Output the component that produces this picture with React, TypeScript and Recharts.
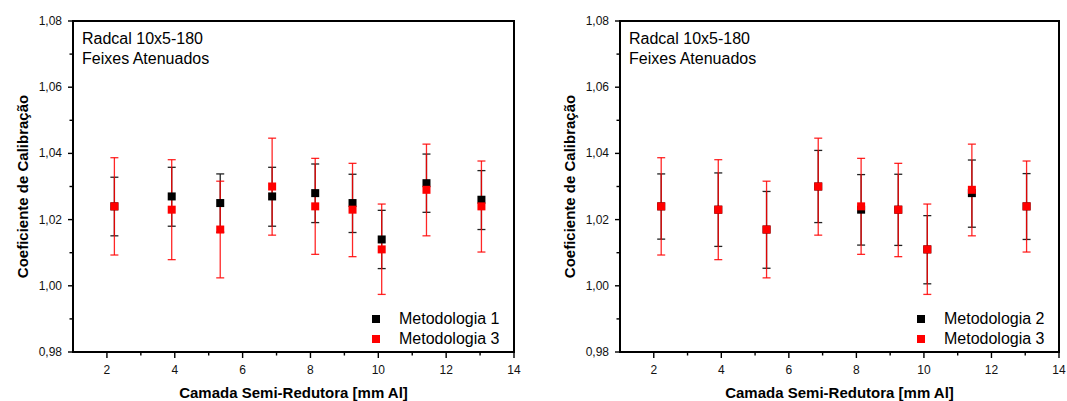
import { ScatterChart, Scatter, XAxis, YAxis, ErrorBar } from "recharts";

// HVL values (mm Al)
const hvl = [2.22, 3.91, 5.34, 6.87, 8.14, 9.24, 10.1, 11.42, 13.04];

const met1Values = [1.024, 1.027, 1.025, 1.027, 1.028, 1.025, 1.014, 1.031, 1.026];
const met1Lower = [1.0151, 1.018, 1.0162, 1.018, 1.0191, 1.0161, 1.0052, 1.0222, 1.017];
const met1Upper = [1.0328, 1.0358, 1.0338, 1.0358, 1.0368, 1.0337, 1.0228, 1.0398, 1.0348];

const met2Values = [1.024, 1.023, 1.017, 1.03, 1.023, 1.023, 1.011, 1.028, 1.024];
const met2Lower = [1.0141, 1.0119, 1.0053, 1.0191, 1.0123, 1.0122, 1.0006, 1.0177, 1.014];
const met2Upper = [1.0338, 1.0341, 1.0285, 1.0409, 1.0336, 1.0337, 1.0212, 1.038, 1.0339];

const met3Values = [1.024, 1.023, 1.017, 1.03, 1.024, 1.023, 1.011, 1.029, 1.024];
const met3Lower = [1.0093, 1.0079, 1.0024, 1.0153, 1.0095, 1.0088, 0.9974, 1.0151, 1.0102];
const met3Upper = [1.0387, 1.0381, 1.0316, 1.0446, 1.0385, 1.037, 1.0247, 1.0428, 1.0377];

const xMajorTicks = [2, 4, 6, 8, 10, 12, 14];
const xMinorTicks = [3, 5, 7, 9, 11, 13];
const yMajorTicks = [0.98, 1.0, 1.02, 1.04, 1.06, 1.08];
const yMinorTicks = [0.99, 1.01, 1.03, 1.05, 1.07];

const xAllTicks = [...xMinorTicks, ...xMajorTicks].sort((a, b) => a - b);
const yAllTicks = [...yMinorTicks, ...yMajorTicks].sort((a, b) => a - b);

const FONT = '"Liberation Sans", Arial, Helvetica, sans-serif';
const BLACK = "#000000";
const RED = "#ff0000";
const X_DOMAIN = [1, 14];
const Y_DOMAIN = [0.98, 1.08];

// layout
const CHART_H = 401;
const MARGIN_TOP = 21;
const X_AXIS_H = 49;
const Y_AXIS_W = 73;

const buildRows = (values: number[], lower: number[], upper: number[]) =>
  hvl.map((x, i) => ({ x, y: values[i], err: [values[i] - lower[i], upper[i] - values[i]] }));

const square = (color: string) => (p: any) =>
  <rect x={p.cx - 4} y={p.cy - 4} width={8} height={8} fill={color} />;

const fmtY = (v: number) => v.toFixed(2).replace(".", ",");
const isMajorX = (v: number) => xMajorTicks.includes(v);
const isMajorY = (v: number) => Math.round(v * 100) % 2 === 0;

const BottomTick = (p: any) => {
  const v = p.payload.value;
  const major = isMajorX(v);
  return (
    <g>
      <rect x={p.x - 0.7} y={p.y} width={1.4} height={major ? 6 : 3.5} fill={BLACK} />
      {major && (
        <text x={p.x} y={p.y + 22} textAnchor="middle" fontSize={12} fill="#111" fontFamily={FONT}>
          {v}
        </text>
      )}
    </g>
  );
};

const TopTick = (p: any) => {
  const v = p.payload.value;
  if (v === 14) return <g />;
  return <rect x={p.x - 0.5} y={p.y} width={1} height={isMajorX(v) ? 3 : 2} fill="#999" />;
};

const LeftTick = (p: any) => {
  const v = p.payload.value;
  const major = isMajorY(v);
  const len = major ? 5 : 3.5;
  return (
    <g>
      <rect x={p.x - len} y={p.y - 0.7} width={len} height={1.4} fill={BLACK} />
      {major && (
        <text x={p.x - 11} y={p.y + 4} textAnchor="end" fontSize={12} fill="#111" fontFamily={FONT}>
          {fmtY(v)}
        </text>
      )}
    </g>
  );
};

const RightTick = (p: any) => {
  const v = p.payload.value;
  const len = isMajorY(v) ? 5 : 3.5;
  return <rect x={p.x - len} y={p.y - 0.7} width={len} height={1.4} fill={BLACK} />;
};

interface PanelProps {
  left: number;
  width: number;
  marginRight: number;
  blackName: string;
  blackRows: { x: number; y: number; err: number[] }[];
}

function Panel({ left, width, marginRight, blackName, blackRows }: PanelProps) {
  const redRows = buildRows(met3Values, met3Lower, met3Upper);
  const plotW = width - Y_AXIS_W - marginRight;
  const plotH = CHART_H - MARGIN_TOP - X_AXIS_H;
  return (
    <div style={{ position: "absolute", left, top: 0, width, height: CHART_H, fontFamily: FONT }}>
      <div style={{ position: "absolute", left: 0, top: 0, zIndex: 0 }}>
        <ScatterChart width={width} height={CHART_H} margin={{ top: MARGIN_TOP, right: marginRight, bottom: 0, left: 0 }}>
          <XAxis
            type="number"
            dataKey="x"
            domain={X_DOMAIN}
            ticks={xAllTicks}
            interval={0}
            height={X_AXIS_H}
            tickSize={0}
            tickMargin={0}
            tick={BottomTick}
            axisLine={false}
            tickLine={false}
            allowDataOverflow
            label={{
              value: "Camada Semi-Redutora [mm Al]",
              position: "insideBottom",
              offset: 3,
              style: { fontSize: 15, fontWeight: "bold", fill: "#000", fontFamily: FONT },
            }}
          />
          <XAxis
            xAxisId="top"
            orientation="top"
            type="number"
            dataKey="x"
            domain={X_DOMAIN}
            ticks={xAllTicks}
            interval={0}
            height={0}
            tickSize={0}
            tickMargin={0}
            tick={TopTick}
            axisLine={false}
            tickLine={false}
            allowDataOverflow
          />
          <YAxis
            type="number"
            dataKey="y"
            domain={Y_DOMAIN}
            ticks={yAllTicks}
            interval={0}
            width={Y_AXIS_W}
            tickSize={0}
            tickMargin={0}
            tick={LeftTick}
            axisLine={false}
            tickLine={false}
            allowDataOverflow
            label={{
              value: "Coeficiente de Calibração",
              angle: -90,
              position: "insideLeft",
              offset: 23,
              style: { fontSize: 15, fontWeight: "bold", fill: "#000", fontFamily: FONT, textAnchor: "middle" },
            }}
          />
          <YAxis
            yAxisId="right"
            orientation="right"
            type="number"
            dataKey="y"
            domain={Y_DOMAIN}
            ticks={yAllTicks}
            interval={0}
            width={0}
            tickSize={0}
            tickMargin={0}
            tick={RightTick}
            axisLine={false}
            tickLine={false}
            allowDataOverflow
          />
          <Scatter data={blackRows} fill={BLACK} shape={square(BLACK)} isAnimationActive={false}>
            <ErrorBar dataKey="err" direction="y" width={4} stroke="#222" strokeWidth={1.3} isAnimationActive={false} />
          </Scatter>
          <Scatter data={redRows} fill={RED} shape={square(RED)} isAnimationActive={false}>
            <ErrorBar dataKey="err" direction="y" width={4} stroke={RED} strokeOpacity={0.85} strokeWidth={1.3} isAnimationActive={false} />
          </Scatter>
        </ScatterChart>
      </div>

      {/* plot frame, kept above the svg */}
      <div
        style={{
          position: "absolute",
          left: Y_AXIS_W - 1,
          top: MARGIN_TOP - 1,
          width: plotW + 2,
          height: plotH + 2,
          borderStyle: "solid",
          borderColor: "#000",
          borderWidth: 2,
          boxSizing: "border-box",
          zIndex: 2,
          pointerEvents: "none",
        }}
      />

      <div style={{ position: "absolute", left: 82, top: 29, fontSize: 16, lineHeight: "20px", color: "#000", zIndex: 3 }}>
        <div>Radcal 10x5-180</div>
        <div>Feixes Atenuados</div>
      </div>

      <div style={{ position: "absolute", left: width - marginRight - 142, top: 309, fontSize: 16, lineHeight: "20px", color: "#000", zIndex: 3 }}>
        {[
          { name: blackName, color: BLACK },
          { name: "Metodologia 3", color: RED },
        ].map((it) => (
          <div key={it.name} style={{ display: "flex", alignItems: "center" }}>
            <span style={{ display: "inline-block", width: 8, height: 8, background: it.color, marginRight: 19 }} />
            <span>{it.name}</span>
          </div>
        ))}
      </div>
    </div>
  );
}

export default function App() {
  const rows1 = buildRows(met1Values, met1Lower, met1Upper);
  const rows2 = buildRows(met2Values, met2Lower, met2Upper);
  return (
    <div style={{ position: "absolute", left: 0, top: 0, width: 1067, height: 401, background: "#fff" }}>
      <Panel left={0} width={540} marginRight={26} blackName="Metodologia 1" blackRows={rows1} />
      <Panel left={547} width={520} marginRight={8} blackName="Metodologia 2" blackRows={rows2} />
    </div>
  );
}
